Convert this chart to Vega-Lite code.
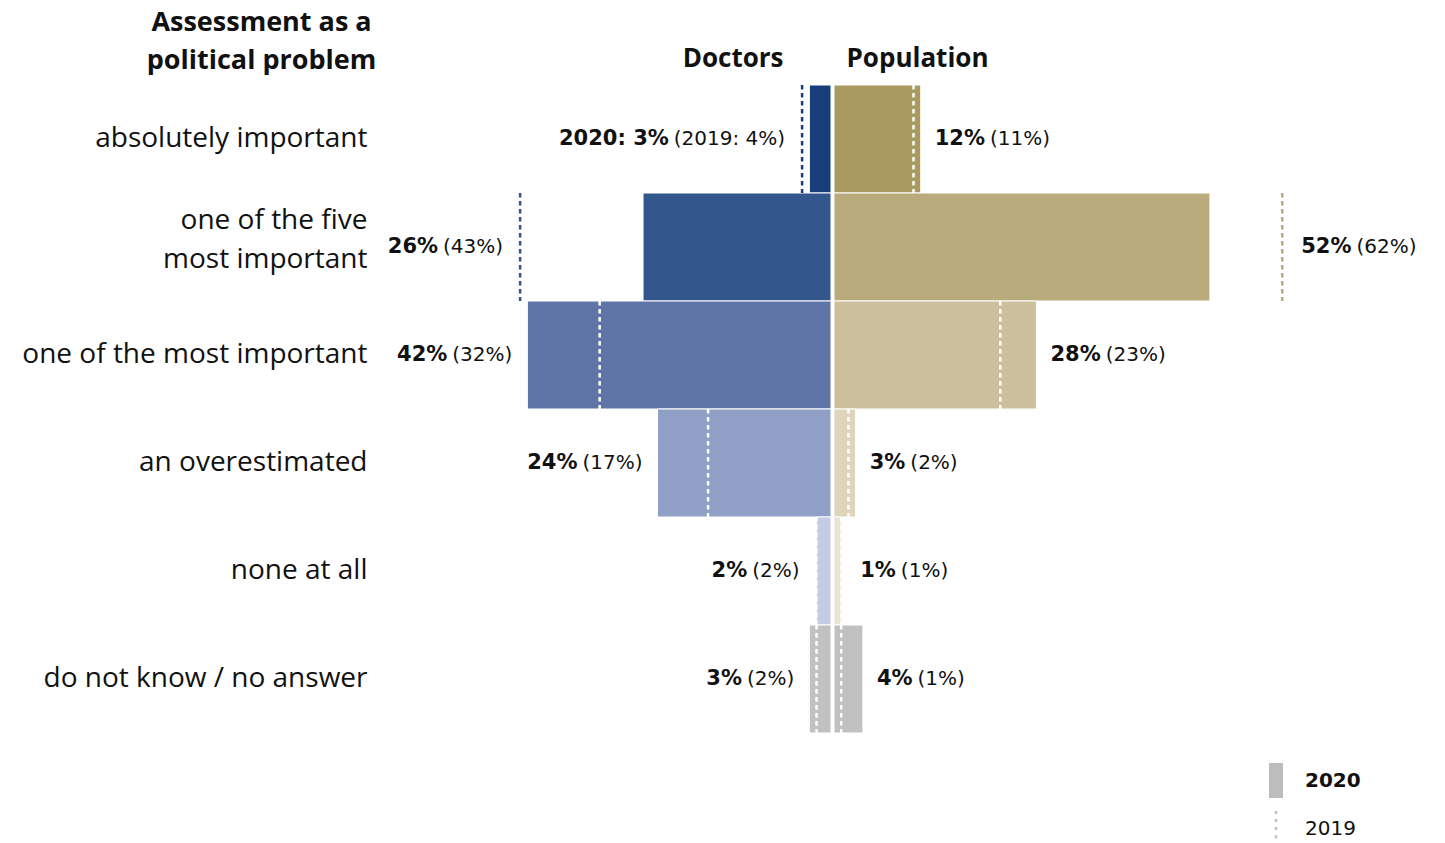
{
  "$schema": "https://vega.github.io/schema/vega-lite/v6.json",
  "autosize": {"type": "none"},
  "width": 1060,
  "height": 648,
  "padding": {"left": 380, "top": 85, "right": 5, "bottom": 110},
  "background": "white",
  "config": {"view": {"stroke": null}, "axis": {"grid": false}},
  "datasets": {
    "survey": [
      {"group": "Doctors", "cat": "absolutely important", "v2020": 3, "v2019": 4, "bold": "2020: 3%", "reg": "(2019: 4%)"},
      {"group": "Doctors", "cat": "one of the five most important", "v2020": 26, "v2019": 43, "bold": "26%", "reg": "(43%)"},
      {"group": "Doctors", "cat": "one of the most important", "v2020": 42, "v2019": 32, "bold": "42%", "reg": "(32%)"},
      {"group": "Doctors", "cat": "an overestimated", "v2020": 24, "v2019": 17, "bold": "24%", "reg": "(17%)"},
      {"group": "Doctors", "cat": "none at all", "v2020": 2, "v2019": 2, "bold": "2%", "reg": "(2%)"},
      {"group": "Doctors", "cat": "do not know / no answer", "v2020": 3, "v2019": 2, "bold": "3%", "reg": "(2%)"},
      {"group": "Population", "cat": "absolutely important", "v2020": 12, "v2019": 11, "bold": "12%", "reg": "(11%)"},
      {"group": "Population", "cat": "one of the five most important", "v2020": 52, "v2019": 62, "bold": "52%", "reg": "(62%)"},
      {"group": "Population", "cat": "one of the most important", "v2020": 28, "v2019": 23, "bold": "28%", "reg": "(23%)"},
      {"group": "Population", "cat": "an overestimated", "v2020": 3, "v2019": 2, "bold": "3%", "reg": "(2%)"},
      {"group": "Population", "cat": "none at all", "v2020": 1, "v2019": 1, "bold": "1%", "reg": "(1%)"},
      {"group": "Population", "cat": "do not know / no answer", "v2020": 4, "v2019": 1, "bold": "4%", "reg": "(1%)"}
    ]
  },
  "data": {"name": "survey"},
  "encoding": {
    "y": {
      "field": "cat", "type": "nominal",
      "sort": ["absolutely important", "one of the five most important", "one of the most important", "an overestimated", "none at all", "do not know / no answer"],
      "scale": {"paddingInner": 0, "paddingOuter": 0},
      "axis": {
        "domain": false, "ticks": false, "tickSize": 0, "labelPadding": 13, "labelLimit": 600,
        "labelFont": "Open Sans", "labelFontSize": 28, "labelColor": "#111", "labelLineHeight": 39,
        "labelOffset": {"condition": {"test": "datum.value == 'one of the five most important'", "value": -26}, "value": 0},
        "labelExpr": "datum.label == 'one of the five most important' ? ['one of the five', 'most important'] : datum.label",
        "title": ["Assessment as a", "political problem"],
        "titleFont": "Open Sans", "titleFontSize": 27, "titleFontWeight": "bold", "titleColor": "#111",
        "titleAngle": 0, "titleAlign": "center", "titleBaseline": "alphabetic",
        "titleX": -119, "titleY": -55, "titleLineHeight": 38
      }
    }
  },
  "resolve": {"scale": {"x": "independent", "color": "independent"}, "axis": {"x": "independent"}},
  "layer": [
    {
      "transform": [{"filter": "datum.group == 'Doctors'"}],
      "encoding": {
        "x": {
          "field": "v2020", "type": "quantitative",
          "scale": {"domain": [-84.23, 62.38], "reverse": true, "nice": false, "zero": false},
          "axis": {
            "orient": "top", "labels": false, "ticks": false, "domain": false, "grid": false,
            "title": "Doctors", "titleFont": "Open Sans", "titleFontSize": 26, "titleFontWeight": "bold", "titleColor": "#111",
            "titleAlign": "right", "titleBaseline": "alphabetic", "titleX": 403, "titleY": -19, "titleAngle": 0
          }
        }
      },
      "layer": [
        {
          "mark": {"type": "bar", "stroke": "white", "strokeWidth": 1},
          "encoding": {
            "color": {"field": "cat", "type": "nominal",
              "scale": {"domain": ["absolutely important", "one of the five most important", "one of the most important", "an overestimated", "none at all", "do not know / no answer"],
                        "range": ["#173e7b", "#33568c", "#6075a7", "#909fc5", "#c4cbe2", "#c0c1c0"]},
              "legend": null}
          }
        },
        {
          "mark": {"type": "rule", "strokeDash": [4.5, 3.5], "strokeWidth": 2.5, "yOffset": -54, "y2Offset": 54},
          "encoding": {
            "x": {
              "field": "v2019", "type": "quantitative",
              "axis": {
                "orient": "top", "labels": false, "ticks": false, "domain": false, "grid": false,
                "title": "Doctors", "titleFont": "Open Sans", "titleFontSize": 26, "titleFontWeight": "bold", "titleColor": "#111",
                "titleAlign": "right", "titleBaseline": "alphabetic", "titleX": 403, "titleY": -19, "titleAngle": 0
              }
            },
            "y2": {"field": "cat"},
            "color": {"condition": {"test": "datum.v2019 <= datum.v2020", "value": "white"}, "field": "cat", "type": "nominal", "legend": null}
          }
        },
        {
          "mark": {"type": "text", "align": "right", "baseline": "middle", "font": "DejaVu Sans", "fontSize": 20, "color": "#111",
                   "dx": {"expr": "-max(15, (datum.v2019 - datum.v2020) * 7.23 + 17)"}},
          "encoding": {"text": {"field": "reg"}}
        },
        {
          "mark": {"type": "text", "align": "right", "baseline": "middle", "font": "DejaVu Sans", "fontSize": 21, "fontWeight": "bold", "color": "#111",
                   "dx": {"expr": "-max(15, (datum.v2019 - datum.v2020) * 7.23 + 17) - 20 * (0.636 * length(replace(datum.reg, regexp('[^0-9]', 'g'), '')) + 1.73 + (indexof(datum.reg, ':') >= 0 ? 0.655 : 0)) - 5"}},
          "encoding": {"text": {"field": "bold"}}
        }
      ]
    },
    {
      "transform": [{"filter": "datum.group == 'Population'"}],
      "encoding": {
        "x": {
          "field": "v2020", "type": "quantitative",
          "scale": {"domain": [-62.79, 83.82], "nice": false, "zero": false},
          "axis": {
            "orient": "top", "labels": false, "ticks": false, "domain": false, "grid": false,
            "title": "Population", "titleFont": "Open Sans", "titleFontSize": 26, "titleFontWeight": "bold", "titleColor": "#111",
            "titleAlign": "left", "titleBaseline": "alphabetic", "titleX": 466, "titleY": -19, "titleAngle": 0
          }
        }
      },
      "layer": [
        {
          "mark": {"type": "bar", "stroke": "white", "strokeWidth": 1},
          "encoding": {
            "color": {"field": "cat", "type": "nominal",
              "scale": {"domain": ["absolutely important", "one of the five most important", "one of the most important", "an overestimated", "none at all", "do not know / no answer"],
                        "range": ["#a89a61", "#b9ab7c", "#ccc09c", "#ded5bb", "#e9e3d2", "#c0c1c0"]},
              "legend": null}
          }
        },
        {
          "mark": {"type": "rule", "strokeDash": [4.5, 3.5], "strokeWidth": 2.5, "yOffset": -54, "y2Offset": 54},
          "encoding": {
            "x": {
              "field": "v2019", "type": "quantitative",
              "axis": {
                "orient": "top", "labels": false, "ticks": false, "domain": false, "grid": false,
                "title": "Population", "titleFont": "Open Sans", "titleFontSize": 26, "titleFontWeight": "bold", "titleColor": "#111",
                "titleAlign": "left", "titleBaseline": "alphabetic", "titleX": 466, "titleY": -19, "titleAngle": 0
              }
            },
            "y2": {"field": "cat"},
            "color": {"condition": {"test": "datum.v2019 <= datum.v2020", "value": "white"}, "field": "cat", "type": "nominal", "legend": null}
          }
        },
        {
          "mark": {"type": "text", "align": "left", "baseline": "middle", "font": "DejaVu Sans", "fontSize": 21, "fontWeight": "bold", "color": "#111",
                   "dx": {"expr": "max(14, (datum.v2019 - datum.v2020) * 7.23 + 19)"}},
          "encoding": {"text": {"field": "bold"}}
        },
        {
          "mark": {"type": "text", "align": "left", "baseline": "middle", "font": "DejaVu Sans", "fontSize": 20, "color": "#111",
                   "dx": {"expr": "max(14, (datum.v2019 - datum.v2020) * 7.23 + 19) + 21 * (0.696 * (length(datum.bold) - 1) + 1.002) + 5"}},
          "encoding": {"text": {"field": "reg"}}
        },
        {
          "data": {"values": [{"year": "2020"}, {"year": "2019"}]},
          "mark": {"type": "point", "filled": true, "opacity": 0, "color": "#bdbdbd"},
          "encoding": {
            "x": {"value": 0},
            "y": {"value": 0},
            "shape": {
              "field": "year", "type": "nominal",
              "scale": {"domain": ["2020", "2019"],
                        "range": ["M-0.4,-1H0.4V1H-0.4Z",
                                  "M-0.07,-1h0.14v0.17h-0.14Z M-0.07,-0.54h0.14v0.17h-0.14Z M-0.07,-0.08h0.14v0.17h-0.14Z M-0.07,0.38h0.14v0.17h-0.14Z M-0.07,0.83h0.14v0.17h-0.14Z"]},
              "legend": {
                "title": null, "orient": "none", "legendX": 878.5, "legendY": 678, "padding": 0,
                "symbolSize": 1225, "symbolOpacity": 1, "symbolStrokeWidth": 0, "symbolFillColor": "#bdbdbd",
                "labelFont": "DejaVu Sans", "labelFontSize": 20, "labelColor": "#111", "labelOffset": 11.5, "rowPadding": 13,
                "labelFontWeight": {"expr": "datum.label == '2020' ? 'bold' : 'normal'"}
              }
            }
          }
        }
      ]
    }
  ]
}
